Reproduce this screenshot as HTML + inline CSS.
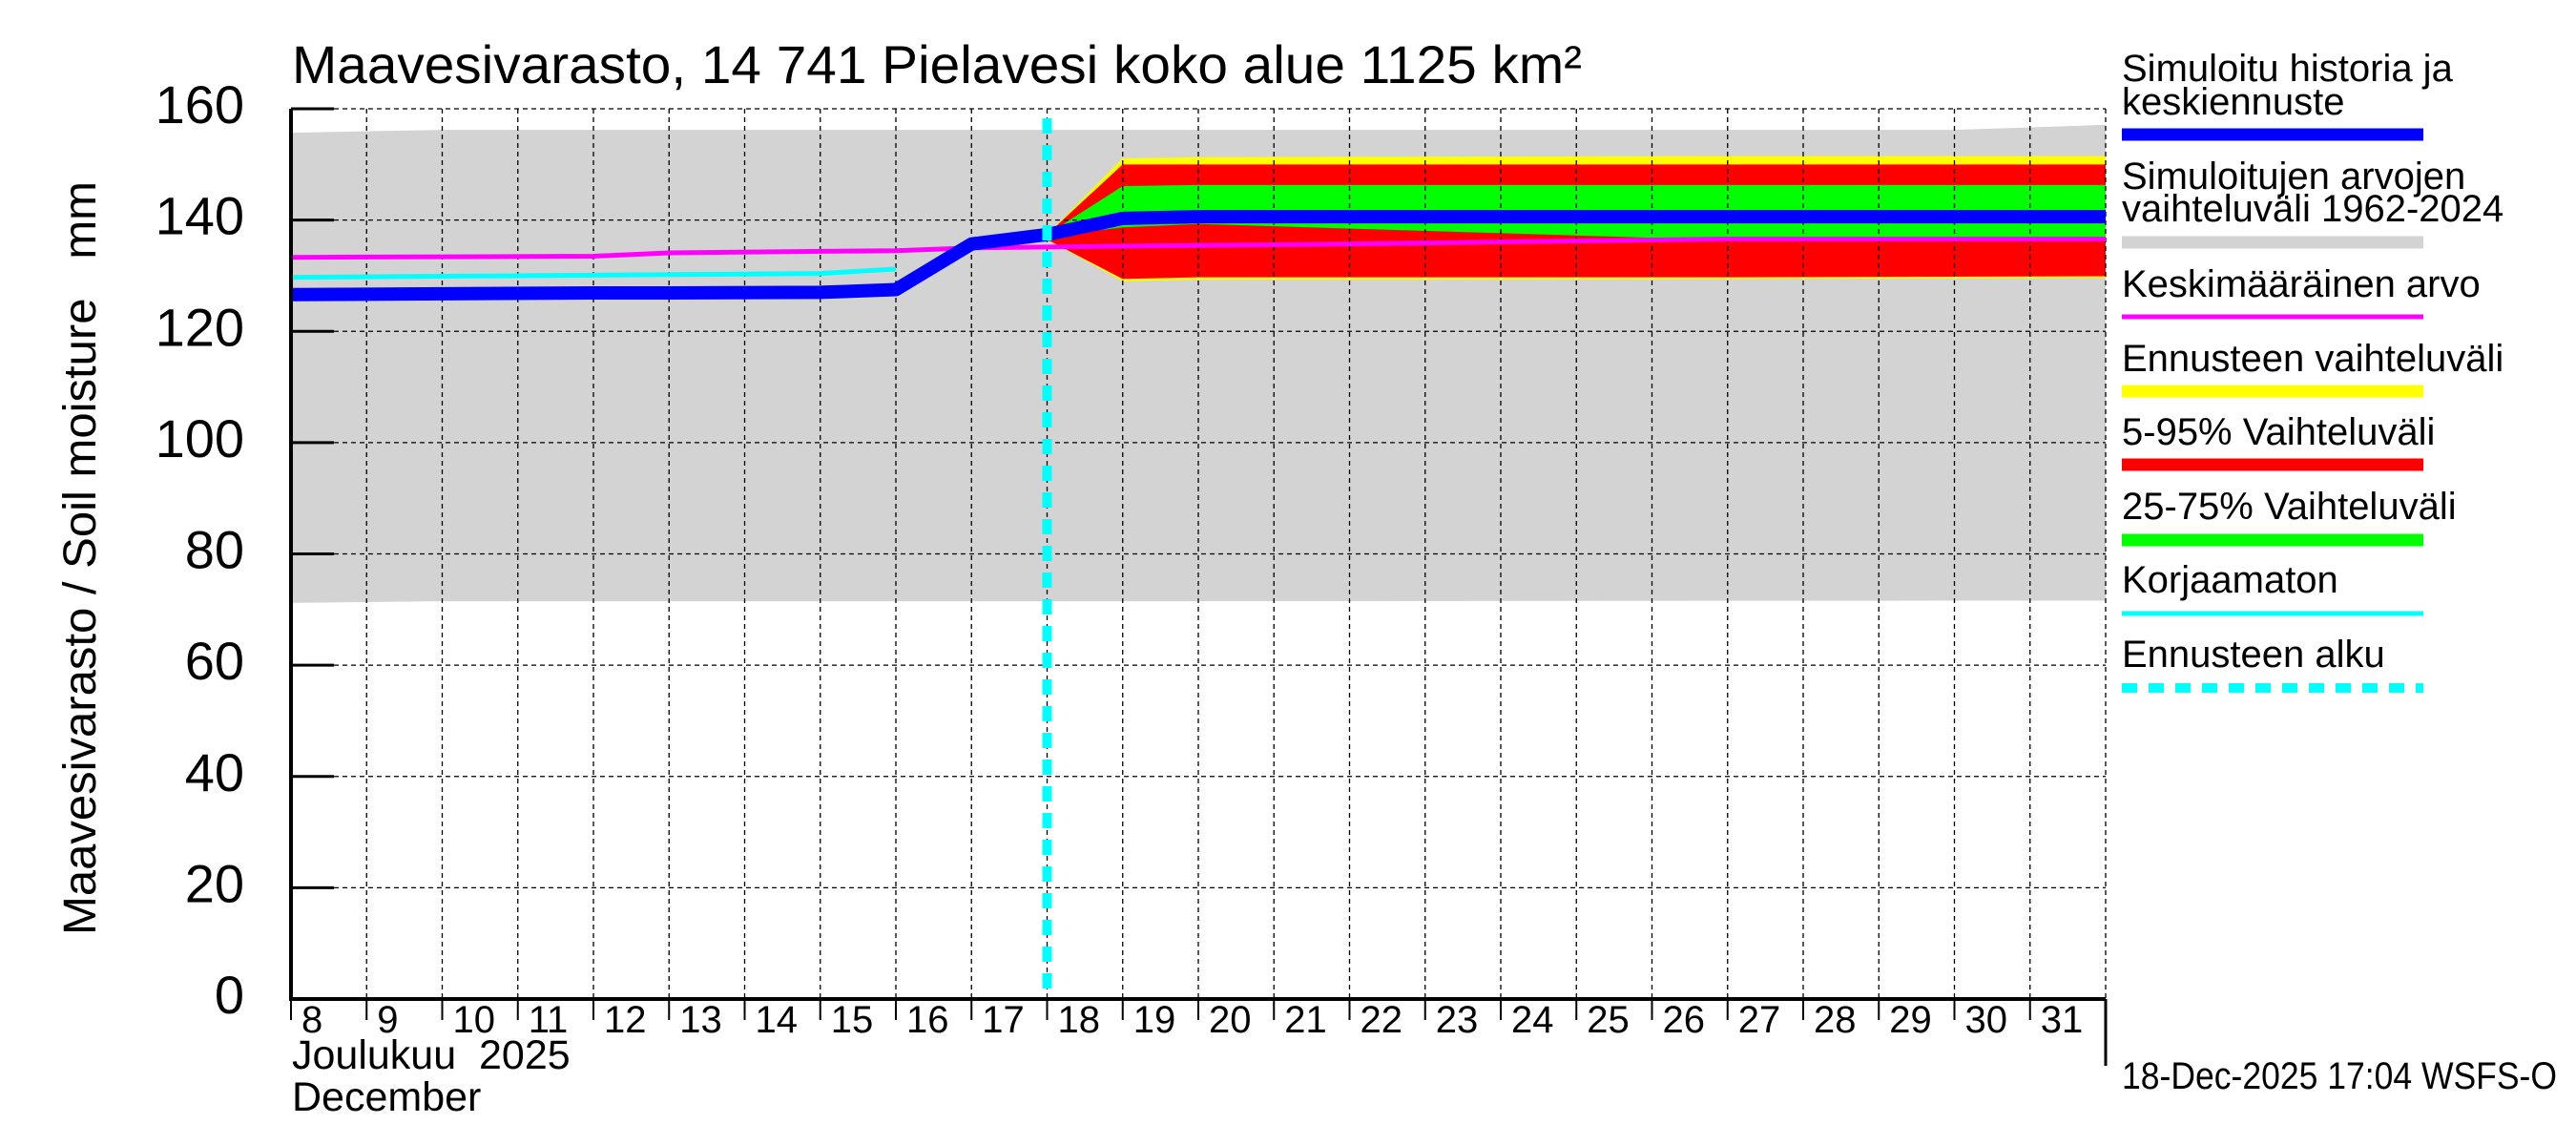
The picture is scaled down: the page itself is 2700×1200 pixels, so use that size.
<!DOCTYPE html>
<html><head><meta charset="utf-8"><style>
html,body{margin:0;padding:0;background:#fff;}
svg{display:block;font-family:"Liberation Sans",sans-serif;}
</style></head><body>
<svg id="chart" width="2700" height="1200" viewBox="0 0 2700 1200">
<g id="bands"></g><g id="grid"></g><g id="lines"></g><g id="axes"></g><g id="legend"></g>
</svg>
<script>
// ---- data ----
const histDays = [8, 12, 13, 15, 16, 17, 18];
const blueHist = [126.6, 126.9, 126.9, 127.0, 127.5, 135.7, 137.4];
const fcDays = [18, 19, 20, 27, 32];
const blueFc = [137.4, 140.3, 140.6, 140.6, 140.6];
const yellowTop = [137.4, 151.1, 151.3, 151.5, 151.5];
const redTop = [137.4, 150.0, 150.0, 150.0, 150.0];
const greenTop = [137.4, 146.1, 146.3, 146.3, 146.3];
const greenBot = [137.0, 138.7, 139.3, 136.4, 136.4];
const redBot = [136.5, 129.4, 129.7, 129.7, 129.9];
const yellowBot = [136.5, 129.0, 129.3, 129.4, 129.6];
const greyDays = [8, 10, 20, 30, 32];
const greyTop = [155.7, 156.2, 156.2, 156.2, 157.1];
const greyBot = [71.2, 71.5, 71.5, 71.6, 71.6];
const magDays = [8, 12, 13, 16, 17, 19, 22, 27, 32];
const magVals = [133.3, 133.5, 134.1, 134.5, 135.0, 135.3, 135.7, 136.6, 136.6];
const cyanDays = [8, 15, 16];
const cyanVals = [129.7, 130.4, 131.2];
const yTicks = [0, 20, 40, 60, 80, 100, 120, 140, 160];
const xTickLabels = [8,9,10,11,12,13,14,15,16,17,18,19,20,21,22,23,24,25,26,27,28,29,30,31];
const forecastStart = 18;

// ---- axes ----
const X0 = 305, X1 = 2207, Y0 = 1047, Y1 = 114;
function xs(d){ return X0 + (d - 8) * (X1 - X0) / 24; }
function ys(v){ return Y0 - v * (Y0 - Y1) / 160; }
const NS = "http://www.w3.org/2000/svg";
function mk(tag, attrs, parent){ const e = document.createElementNS(NS, tag); for (const k in attrs) e.setAttribute(k, attrs[k]); parent.appendChild(e); return e; }
const bands = document.getElementById('bands'), grid = document.getElementById('grid'), lines = document.getElementById('lines'), axes = document.getElementById('axes'), legend = document.getElementById('legend');

function area(days, top, bot, color, name){
  let p = days.map((d,i)=>xs(d)+','+ys(top[i])).join(' ') + ' ' + days.slice().reverse().map((d,i)=>xs(d)+','+ys(bot[days.length-1-i])).join(' ');
  const e = mk('polygon', {points:p, fill:color}, bands);
  
  
}
function line(days, vals, color, w, name, parent){
  const e = mk('polyline', {points: days.map((d,i)=>xs(d)+','+ys(vals[i])).join(' '), fill:'none', stroke:color, 'stroke-width':w, 'stroke-linejoin':'round'}, parent||lines);
  
  
}
area(greyDays, greyTop, greyBot, '#d3d3d3', 'historical-range-band');
area(fcDays, yellowTop, yellowBot, '#ffff00', 'forecast-range-band');
area(fcDays, redTop, redBot, '#ff0000', 'range-5-95-band');
area(fcDays, greenTop, greenBot, '#00ff00', 'range-25-75-band');

// grid
for (const t of yTicks) {
  const e = mk('line', {x1:X0, x2:X1, y1:ys(t), y2:ys(t), stroke:'#000', 'stroke-width':1.3, 'stroke-dasharray':'5,4'}, grid);
  
  
}
for (let d = 9; d <= 32; d++) {
  const e = mk('line', {x1:xs(d), x2:xs(d), y1:Y1, y2:Y0, stroke:'#000', 'stroke-width':1.3, 'stroke-dasharray':'5,4'}, grid);
  
  
}

line(cyanDays, cyanVals, '#00ffff', 5, 'uncorrected-line');
line(magDays, magVals, '#ff00ff', 5, 'mean-line');
line(histDays, blueHist, '#0000ff', 14, 'simulated-history-line');
line(fcDays, blueFc, '#0000ff', 14, 'median-forecast-line');
{
  const e = mk('line', {x1:xs(forecastStart), x2:xs(forecastStart), y1:Y1+10, y2:Y0, stroke:'#00ffff', 'stroke-width':10, 'stroke-dasharray':'16,12'}, lines);
  
  
}

// axes
let e;
e = mk('line', {x1:X0, x2:X0, y1:Y1, y2:Y0+2, stroke:'#000', 'stroke-width':4}, axes);
 
e = mk('line', {x1:X0-2, x2:X1, y1:Y0, y2:Y0, stroke:'#000', 'stroke-width':4}, axes);
 
e = mk('line', {x1:X1, x2:X1, y1:Y0, y2:1117, stroke:'#000', 'stroke-width':3}, axes);
 
for (const t of yTicks) {
  e = mk('line', {x1:X0, x2:X0+45, y1:ys(t), y2:ys(t), stroke:'#000', 'stroke-width':3}, axes);
   
  e = mk('text', {x:256, y:ys(t)+15, 'text-anchor':'end', 'font-size':56, fill:'#000'}, axes);
  e.textContent = t;
   
}
xTickLabels.forEach((lab) => {
  e = mk('line', {x1:xs(lab), x2:xs(lab), y1:Y0, y2:Y0+22, stroke:'#000', 'stroke-width':2}, axes);
   
  e = mk('text', {x:xs(lab)+11, y:1082, 'font-size':40, fill:'#000'}, axes);
  e.textContent = lab;
   
});
e = mk('text', {x:306, y:1120, 'font-size':43, fill:'#000'}, axes);
e.textContent = 'Joulukuu\u00a0\u00a02025';
 
e = mk('text', {x:306, y:1164, 'font-size':43, fill:'#000'}, axes);
e.textContent = 'December';
 
e = mk('text', {x:0, y:0, 'font-size':48, fill:'#000', transform:'translate(100,980) rotate(-90)', textLength:790, lengthAdjust:'spacingAndGlyphs'}, axes);
e.textContent = 'Maavesivarasto / Soil moisture\u00a0\u00a0\u00a0mm';
 
e = mk('text', {x:306, y:87, 'font-size':56, fill:'#000', textLength:1352, lengthAdjust:'spacingAndGlyphs'}, axes);
e.textContent = 'Maavesivarasto, 14 741 Pielavesi koko alue 1125 km²';
 
e = mk('text', {x:2224, y:1141, 'font-size':40, fill:'#000', textLength:456, lengthAdjust:'spacingAndGlyphs'}, axes);
e.textContent = '18-Dec-2025 17:04 WSFS-O';
 

// legend
const LX0 = 2224, LX1 = 2540;
function legText(t, y, name){ const el = mk('text', {x:LX0, y:y, 'font-size':40, fill:'#000'}, legend); el.textContent = t;   }
function legLine(y, color, w, name, dash){ const a = {x1:LX0, x2:LX1, y1:y, y2:y, stroke:color, 'stroke-width':w}; if (dash) a['stroke-dasharray'] = dash; const el = mk('line', a, legend);   }
legText('Simuloitu historia ja', 85, 'legend-label-simulated');
legText('keskiennuste', 120, 'legend-label-simulated-2');
legLine(141, '#0000ff', 13, 'legend-swatch-simulated');
legText('Simuloitujen arvojen', 198, 'legend-label-hist-range');
legText('vaihteluväli 1962-2024', 232, 'legend-label-hist-range-2');
legLine(254, '#d3d3d3', 13, 'legend-swatch-hist-range');
legText('Keskimääräinen arvo', 311, 'legend-label-mean');
legLine(332, '#ff00ff', 5, 'legend-swatch-mean');
legText('Ennusteen vaihteluväli', 389, 'legend-label-forecast-range');
legLine(410, '#ffff00', 13, 'legend-swatch-forecast-range');
legText('5-95% Vaihteluväli', 466, 'legend-label-5-95');
legLine(487, '#ff0000', 13, 'legend-swatch-5-95');
legText('25-75% Vaihteluväli', 544, 'legend-label-25-75');
legLine(566, '#00ff00', 13, 'legend-swatch-25-75');
legText('Korjaamaton', 621, 'legend-label-uncorrected');
legLine(643, '#00ffff', 5, 'legend-swatch-uncorrected');
legText('Ennusteen alku', 699, 'legend-label-forecast-start');
legLine(721, '#00ffff', 10, 'legend-swatch-forecast-start', '16,12');
</script>
</body></html>
